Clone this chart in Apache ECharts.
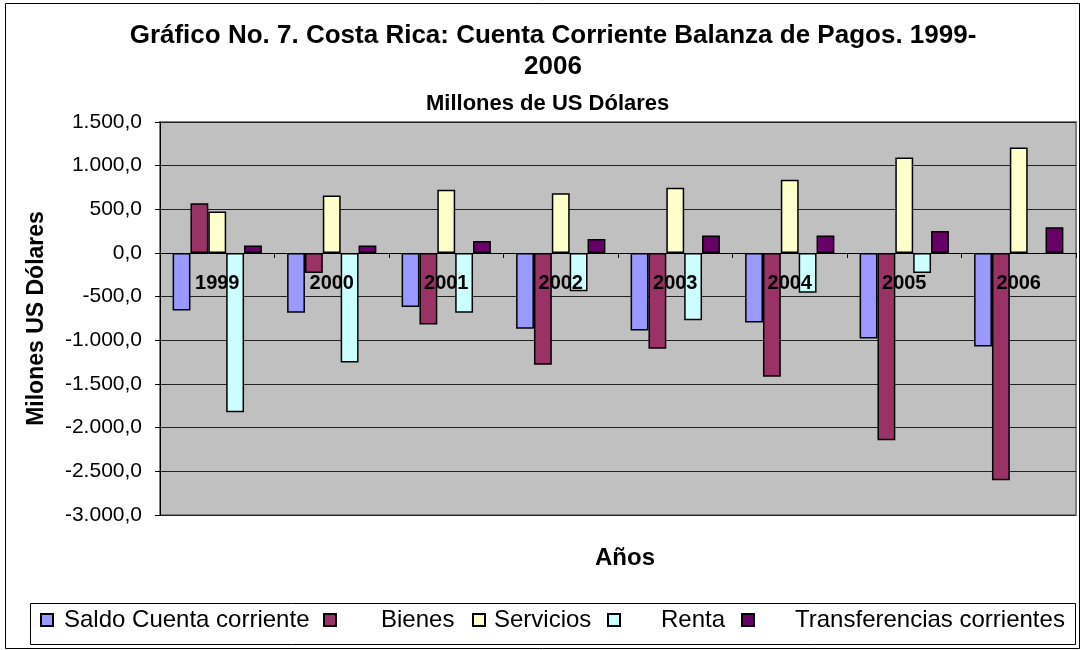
<!DOCTYPE html>
<html>
<head>
<meta charset="utf-8">
<script src="https://cdn.jsdelivr.net/npm/echarts@6/dist/echarts.min.js"></script>
<style>
  html, body { margin: 0; padding: 0; background: #fff; }
  #chart { width: 1082px; height: 650px; }
</style>
</head>
<body>
<div id="chart"></div>
<script>
const years = ['1999', '2000', '2001', '2002', '2003', '2004', '2005', '2006']
const saldo = [-657, -683, -619, -866, -888, -797, -980, -1071]
const bienes = [570, -228, -820, -1280, -1097, -1416, -2145, -2601]
const servicios = [475, 657, 725, 683, 748, 839, 1094, 1207]
const renta = [-1823, -1253, -683, -437, -771, -456, -228, null]
const transferencias = [87, 87, 137, 160, 201, 201, 251, 296]
const yTicks = { min: -3000, max: 1500, step: 500 }

const seriesNames = ['Saldo Cuenta corriente', 'Bienes', 'Servicios', 'Renta', 'Transferencias corrientes']
const seriesData = [saldo, bienes, servicios, renta, transferencias]
const colors = ['#9999ff', '#993366', '#ffffcc', '#ccffff', '#660066']

const font = 'Arial, "Liberation Sans", sans-serif'

// formato 1.500,0
const fmt = v => {
    const s = Math.abs(v).toFixed(1).split('.')
    const ent = s[0].replace(/\B(?=(\d{3})+(?!\d))/g, '.')
    return (v < 0 ? '-' : '') + ent + ',' + s[1]
}

// legend spots copied from the excel layout (icon left, extra gap to text)
const legendPos = [[40, 6], [323, 40], [472, 4], [607, 36], [741, 36]]

const gridTop = 122, gridBottom = 135, H = 650
const plotH = H - gridTop - gridBottom
// labels of the category axis sit under the 0 line, like in excel
const zeroOffset = -plotH * (0 - yTicks.min) / (yTicks.max - yTicks.min)

const chart = echarts.init(document.getElementById('chart'))

chart.setOption({
    animation: false,
    textStyle: { fontFamily: font },
    title: [
        {
            text: 'Gráfico No. 7. Costa Rica: Cuenta Corriente Balanza de Pagos. 1999-\n2006',
            left: 548,
            textAlign: 'center',
            top: 15,
            textStyle: { fontSize: 26, fontWeight: 'bold', color: '#000', lineHeight: 31, fontFamily: font }
        },
        {
            text: 'Millones de US Dólares',
            left: 421,
            top: 88,
            textStyle: { fontSize: 22, fontWeight: 'bold', color: '#000', fontFamily: font }
        },
        {
            text: 'Años',
            left: 590,
            top: 541,
            textStyle: { fontSize: 24, fontWeight: 'bold', color: '#000', fontFamily: font }
        }
    ],
    legend: seriesNames.map((name, i) => ({
        data: [name],
        left: legendPos[i][0],
        top: 608,
        padding: 0,
        itemWidth: 12,
        itemHeight: 12,
        icon: 'rect',
        selectedMode: false,
        textStyle: { fontSize: 24, color: '#000', fontFamily: font, padding: [0, 0, 0, legendPos[i][1]] }
    })),
    grid: {
        left: 160,
        right: 6,
        top: gridTop,
        bottom: gridBottom,
        show: true,
        backgroundColor: '#c0c0c0',
        borderColor: '#808080',
        borderWidth: 2
    },
    xAxis: {
        type: 'category',
        data: years,
        offset: zeroOffset,
        z: 10,
        axisLine: { onZero: false, lineStyle: { color: '#000', width: 1 } },
        axisTick: { show: true, length: 5, lineStyle: { color: '#000' } },
        axisLabel: { fontSize: 20, fontWeight: 'bold', color: '#000', margin: 20, fontFamily: font }
    },
    yAxis: {
        type: 'value',
        min: yTicks.min,
        max: yTicks.max,
        interval: yTicks.step,
        name: 'Milones US Dólares',
        nameLocation: 'middle',
        nameGap: 112,
        nameTextStyle: { fontSize: 23, fontWeight: 'bold', color: '#000', fontFamily: font },
        axisLine: { show: true, lineStyle: { color: '#000', width: 1 } },
        axisTick: { show: true, length: 5, lineStyle: { color: '#000' } },
        axisLabel: { fontSize: 21, color: '#000', margin: 18, formatter: fmt, fontFamily: font },
        splitLine: { lineStyle: { color: '#222', width: 1 } }
    },
    series: seriesNames.map((name, i) => ({
        type: 'bar',
        name: name,
        data: seriesData[i],
        barGap: '0%',
        barCategoryGap: '22%',
        itemStyle: { color: colors[i], borderColor: '#000', borderWidth: 1.5 }
    })),
    graphic: [
        {
            type: 'rect',
            shape: { x: 5.5, y: 3.5, width: 1074, height: 645 },
            style: { fill: null, stroke: '#000', lineWidth: 1 },
            silent: true
        },
        {
            type: 'rect',
            shape: { x: 30.5, y: 603.5, width: 1045, height: 41 },
            style: { fill: null, stroke: '#000', lineWidth: 1 },
            silent: true
        }
    ]
})
</script>
</body>
</html>
